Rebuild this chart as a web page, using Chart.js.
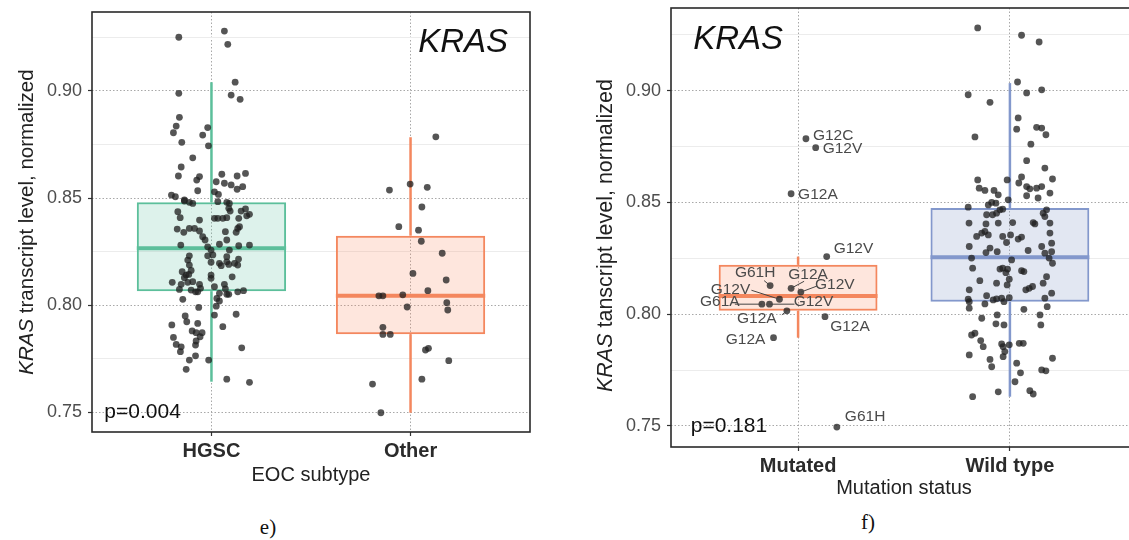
<!DOCTYPE html>
<html lang="en">
<head>
<meta charset="utf-8">
<title>KRAS transcript level</title>
<script src="https://cdn.jsdelivr.net/npm/chart.js@4.4.1/dist/chart.umd.min.js"></script>
<style>
  html, body { margin: 0; padding: 0; background: #fff; width: 1129px; height: 540px; overflow: hidden; position: relative; }
  #panelE { position: absolute; left: 0; top: 0; }
  #panelF { position: absolute; left: 565px; top: 0; }
  .caption { position: absolute; font-family: 'Liberation Serif', 'DejaVu Serif', serif; font-size: 21px; color: #111; transform: translate(-50%, -50%); }
</style>
</head>
<body>
<canvas id="panelE" width="560" height="500"></canvas>
<canvas id="panelF" width="600" height="500"></canvas>
<div class="caption" style="left:268px; top:527px">e)</div>
<div class="caption" style="left:868px; top:522px">f)</div>
<script>
const FONT = "'Liberation Sans', Arial, sans-serif";
Chart.defaults.font.family = FONT;
Chart.defaults.animation = false;

// ---------- shared ticks ----------
const yMajorTicks = [0.75, 0.80, 0.85, 0.90];
const yMinorTicks = [0.775, 0.825, 0.875, 0.925];

// ---------- panel e : EOC subtype ----------
const eCategories = ['HGSC', 'Other'];
const eLower  = [0.7642, 0.7497];
const eQ1     = [0.8065, 0.7864];
const eMedian = [0.8265, 0.8043];
const eQ3     = [0.8480, 0.8324];
const eUpper  = [0.9041, 0.8784];

const hgscX = [
  0.836,1.065,1.082,1.119,0.836,1.099,1.144,0.839,0.823,0.809,
  0.981,0.956,0.851,0.985,0.906,0.848,0.834,0.940,0.926,0.931,
  1.052,1.129,1.171,1.024,1.065,1.099,1.157,1.129,1.015,0.799,
  0.819,0.864,1.035,
  0.864,0.889,0.906,1.032,1.077,1.090,1.087,1.094,1.149,1.171,
  1.191,1.177,0.831,0.843,0.940,1.015,1.032,1.057,1.077,1.137,
  1.141,0.828,0.861,0.889,0.915,0.940,0.956,0.968,1.070,1.077,
  1.124,1.132,0.846,0.981,0.998,1.040,1.090,1.137,1.191,1.007,
  0.981,0.889,0.881,1.077,1.136,0.889,0.998,1.040,1.049,1.077,
  1.087,1.116,1.132,0.853,0.873,0.864,0.886,0.898,0.998,0.998,
  1.104,0.803,0.848,0.881,0.906,0.940,0.945,1.015,1.065,1.070,
  0.839,0.898,0.920,0.931,1.040,1.077,1.087,1.132,1.161,1.027,
  1.040,0.856,1.024,0.936,1.015,1.124,0.801,0.868,0.876,0.931,
  1.057,0.903,0.923,0.953,0.943,0.809,0.823,0.923,0.920,0.848,
  0.844,1.152,0.920,0.889,0.986,0.873,1.077,1.191
];
const hgscY = [
  0.9251,0.9280,0.9218,0.9041,0.8989,0.8981,0.8961,0.8877,0.8836,0.8805,
  0.8829,0.8794,0.8760,0.8744,0.8688,0.8645,0.8603,0.8600,0.8584,0.8534,
  0.8611,0.8603,0.8615,0.8576,0.8569,0.8561,0.8553,0.8541,0.8529,0.8514,
  0.8506,0.8491,0.8517,
  0.8486,0.8480,0.8475,0.8483,0.8480,0.8475,0.8452,0.8439,0.8439,0.8449,
  0.8424,0.8417,0.8436,0.8408,0.8397,0.8405,0.8405,0.8405,0.8408,0.8405,
  0.8366,0.8355,0.8340,0.8358,0.8358,0.8346,0.8319,0.8304,0.8343,0.8304,
  0.8340,0.8358,0.8280,0.8272,0.8257,0.8284,0.8257,0.8277,0.8280,0.8234,
  0.8230,0.8230,0.8210,0.8226,0.8215,0.8187,0.8200,0.8195,0.8184,0.8202,
  0.8190,0.8195,0.8187,0.8156,0.8140,0.8128,0.8143,0.8162,0.8140,0.8125,
  0.8132,0.8106,0.8097,0.8106,0.8109,0.8097,0.8078,0.8086,0.8097,0.8075,
  0.8073,0.8070,0.8062,0.8062,0.8055,0.8050,0.8050,0.8062,0.8067,0.8031,
  0.8019,0.8027,0.7995,0.7989,0.7953,0.7957,0.7907,0.7949,0.7922,0.7914,
  0.7899,0.7879,0.7871,0.7871,0.7852,0.7849,0.7816,0.7832,0.7813,0.7805,
  0.7782,0.7800,0.7763,0.7743,0.7743,0.7700,0.7654,0.7639
];
const otherX = [
  2.127,1.894,1.998,2.084,2.057,1.941,2.040,2.054,2.159,2.012,
  2.179,2.087,1.841,1.861,1.961,1.983,2.182,2.187,1.861,1.861,
  1.898,2.075,2.090,2.192,2.057,1.809,1.851
];
const otherY = [
  0.8786,0.8537,0.8565,0.8550,0.8458,0.8366,0.8350,0.8298,0.8242,0.8148,
  0.8117,0.8067,0.8043,0.8043,0.8048,0.7991,0.8011,0.7977,0.7896,0.7863,
  0.7863,0.7790,0.7798,0.7740,0.7654,0.7631,0.7497
];

// ---------- panel f : mutation status ----------
const fCategories = ['Mutated', 'Wild type'];
const fLower  = [0.7895, 0.7631];
const fQ1     = [0.8016, 0.8056];
const fMedian = [0.8082, 0.8255];
const fQ3     = [0.8221, 0.8475];
const fUpper  = [0.8258, 0.9034];

const mutLabels = ['G12C','G12V','G12A','G12V','G61H','G12A','G12V','G12V','G61A','G12V','G12A','G12A','G12A','G61H'];
const mutX = [1.037,1.083,0.967,1.135,0.868,0.967,0.912,1.013,0.829,0.865,0.947,1.127,0.884,1.183];
const mutY = [0.8785,0.8745,0.8539,0.8258,0.8128,0.8116,0.8067,0.8099,0.8045,0.8045,0.8015,0.7989,0.7895,0.7495];

const wildX = [
  1.848,2.055,2.138,2.036,1.803,2.079,1.906,2.150,2.039,2.032,
  2.126,1.835,2.099,2.079,1.848,1.855,1.882,1.925,1.945,1.987,
  2.055,2.042,2.079,2.094,2.126,2.079,1.992,2.133,2.150,2.170,
  2.165,2.201,2.189,2.150,2.165,2.189,2.157,2.173,2.189,2.197,
  2.150,2.165,2.201,2.197,2.185,2.173,2.157,2.197,2.165,2.176,
  2.142,2.146,2.201,2.150,2.170,1.803,1.898,1.914,1.934,1.890,
  1.918,1.937,1.953,1.966,1.807,1.945,1.887,2.013,2.110,2.118,
  1.882,1.867,1.843,1.898,1.966,2.003,2.039,2.055,1.984,1.808,
  1.906,1.887,1.940,2.086,1.819,2.008,1.824,1.953,1.966,1.981,
  1.989,2.055,2.066,1.858,1.937,1.997,1.987,2.075,2.091,2.107,
  1.808,1.890,1.803,1.808,1.921,1.937,1.882,1.961,1.972,1.997,
  1.808,2.066,1.940,1.867,1.934,1.972,1.819,1.835,1.862,1.874,
  1.961,1.968,1.997,2.044,2.063,1.808,1.976,1.968,1.906,1.914,
  2.032,2.050,2.024,1.945,1.824,2.094,2.110
];
const wildY = [
  0.9281,0.9248,0.9218,0.9039,0.8982,0.8990,0.8948,0.9004,0.8878,0.8828,
  0.8836,0.8793,0.8761,0.8687,0.8601,0.8564,0.8554,0.8554,0.8534,0.8601,
  0.8614,0.8587,0.8571,0.8561,0.8564,0.8530,0.8512,0.8520,0.8833,0.8803,
  0.8654,0.8605,0.8542,0.8571,0.8437,0.8408,0.8452,0.8467,0.8363,0.8318,
  0.8303,0.8273,0.8228,0.8280,0.8251,0.8168,0.8139,0.8094,0.8072,0.8034,
  0.7997,0.7952,0.7803,0.7751,0.7747,0.8479,0.8489,0.8500,0.8497,0.8445,
  0.8445,0.8452,0.8467,0.8470,0.8408,0.8408,0.8404,0.8410,0.8410,0.8404,
  0.8370,0.8363,0.8348,0.8355,0.8348,0.8355,0.8336,0.8345,0.8321,0.8303,
  0.8296,0.8276,0.8280,0.8285,0.8251,0.8243,0.8206,0.8202,0.8206,0.8186,
  0.8202,0.8195,0.8191,0.8150,0.8139,0.8157,0.8131,0.8109,0.8116,0.8124,
  0.8109,0.8083,0.8067,0.8056,0.8064,0.8069,0.8046,0.8072,0.8056,0.8074,
  0.8027,0.8022,0.7997,0.7982,0.7957,0.7952,0.7907,0.7915,0.7882,0.7855,
  0.7867,0.7855,0.7863,0.7870,0.7870,0.7818,0.7833,0.7810,0.7798,0.7765,
  0.7781,0.7738,0.7698,0.7653,0.7631,0.7658,0.7643
];

// where each mutation name sits relative to its point (pixels), plus optional leader line
const mutLabelPos = [
  {dx: 7, dy: -3, align: 'left'},
  {dx: 7, dy: 1, align: 'left'},
  {dx: 7, dy: 1, align: 'left'},
  {dx: 7, dy: -8, align: 'left'},
  {dx: -15, dy: -13, align: 'center', line: [-6, -5]},
  {dx: 17, dy: -14, align: 'center', line: [13, -7]},
  {dx: -49, dy: -10, align: 'center', line: [-28, -9]},
  {dx: 34, dy: -7, align: 'center', line: [16, -6]},
  {dx: -42, dy: -2, align: 'center', line: [-27, 0]},
  {dx: 44, dy: -2, align: 'center', line: [25, 0]},
  {dx: -30, dy: 8, align: 'center', line: [-5, 4]},
  {dx: 25, dy: 10, align: 'center'},
  {dx: -28, dy: 2, align: 'center'},
  {dx: 8, dy: -10, align: 'left'}
];

const BOX_HALF = 0.375;      // half of the box width, in category units
const POINT_COLOR = 'rgba(32,32,32,0.76)';

function boxDatasets(lower, q1, med, q3, upper, colors, fills) {
  const idx = q1.map((_, i) => i);
  const sets = [
    { type: 'bar', data: idx.map(i => ({x: i + 1, y: [lower[i], q1[i]]})), backgroundColor: colors,
      maxBarThickness: 2.5, grouped: false, order: 5 },
    { type: 'bar', data: idx.map(i => ({x: i + 1, y: [q3[i], upper[i]]})), backgroundColor: colors,
      maxBarThickness: 2.5, grouped: false, order: 5 },
    { type: 'bar', data: idx.map(i => ({x: i + 1, y: [q1[i], q3[i]]})), backgroundColor: fills,
      borderColor: colors, borderWidth: 2, borderSkipped: false, barPercentage: 0.75,
      categoryPercentage: 1, grouped: false, order: 4 }
  ];
  idx.forEach(i => sets.push({
    type: 'line', showLine: true, order: 3,
    data: [{x: i + 1 - BOX_HALF, y: med[i]}, {x: i + 1 + BOX_HALF, y: med[i]}],
    borderColor: colors[i], borderWidth: 4, pointRadius: 0
  }));
  return sets;
}

function pointSet(xs, ys) {
  return { type: 'scatter', order: 1, data: xs.map((x, i) => ({x: x, y: ys[i]})),
           pointRadius: 3.4, pointBackgroundColor: POINT_COLOR, pointBorderWidth: 0, pointHoverRadius: 3.4 };
}

function buildScales(cats, yMin, yMax, yWidth, xHeight, xTitle, titlePad) {
  const noPadX = s => { s.paddingLeft = 0; s.paddingRight = 0; };
  const noPadY = s => { s.paddingTop = 0; s.paddingBottom = 0; };
  return {
    x: {
      type: 'linear', min: 0.4, max: 2.6, bounds: 'data', offset: false,
      afterBuildTicks: s => { s.ticks = cats.map((_, i) => ({value: i + 1})); },
      afterFit: s => { s.height = xHeight; noPadX(s); },
      ticks: { callback: v => cats[v - 1], color: '#2b2b2b', font: {size: 20, weight: 'bold'},
               padding: 3, maxRotation: 0, autoSkip: false },
      grid: { color: '#a8a8a8', lineWidth: 1, offset: false, drawTicks: true, tickLength: 4,
              tickColor: '#333', tickWidth: 1.2 },
      border: { display: false, dash: [1.5, 2] },
      title: { display: true, text: xTitle, color: '#222', font: {size: 20},
               padding: {top: 0, bottom: titlePad} }
    },
    yMinor: {
      type: 'linear', position: 'left', min: yMin, max: yMax, bounds: 'data',
      afterBuildTicks: s => { s.ticks = yMinorTicks.map(v => ({value: v})); },
      afterFit: s => { s.width = 0; noPadY(s); },
      ticks: { display: false },
      grid: { color: '#ececec', lineWidth: 1, drawTicks: false },
      border: { display: false }
    },
    y: {
      type: 'linear', position: 'left', min: yMin, max: yMax, bounds: 'data',
      afterBuildTicks: s => { s.ticks = yMajorTicks.map(v => ({value: v})); },
      afterFit: s => { s.width = yWidth; noPadY(s); },
      ticks: { callback: v => v.toFixed(2), color: '#4d4d4d', font: {size: 18}, padding: 6 },
      grid: { color: '#a8a8a8', lineWidth: 1, drawTicks: true, tickLength: 4, tickColor: '#333', tickWidth: 1.2 },
      border: { display: false, dash: [1.5, 2] }
    }
  };
}

// panel frame, y title with italic gene name, in-panel texts, mutation labels
const panelDecor = {
  id: 'panelDecor',
  afterDatasetsDraw(chart, args, opts) {
    const {ctx, chartArea: a} = chart;
    const xs = chart.scales.x, ys = chart.scales.y;
    ctx.save();
    ctx.strokeStyle = '#2a2a2a';
    ctx.lineWidth = 1.6;
    ctx.strokeRect(a.left, a.top, a.right - a.left, a.bottom - a.top);

    ctx.fillStyle = '#111';
    ctx.textBaseline = 'middle';
    ctx.font = 'italic 33px ' + FONT;
    ctx.textAlign = opts.gene.align;
    ctx.fillText('KRAS', xs.getPixelForValue(opts.gene.x), ys.getPixelForValue(opts.gene.y));

    ctx.font = '21px ' + FONT;
    ctx.textAlign = 'left';
    ctx.fillText(opts.p.text, xs.getPixelForValue(opts.p.x), ys.getPixelForValue(opts.p.y));

    if (opts.labels) {
      ctx.font = '15.5px ' + FONT;
      ctx.strokeStyle = '#444';
      ctx.lineWidth = 1;
      opts.labels.text.forEach((t, i) => {
        const px = xs.getPixelForValue(opts.labels.x[i]);
        const py = ys.getPixelForValue(opts.labels.y[i]);
        const pos = opts.labels.pos[i];
        if (pos.line) {
          ctx.beginPath();
          ctx.moveTo(px, py);
          ctx.lineTo(px + pos.line[0], py + pos.line[1]);
          ctx.stroke();
        }
        ctx.fillStyle = '#4a4a4a';
        ctx.textAlign = pos.align;
        ctx.fillText(t, px + pos.dx, py + pos.dy);
      });
    }

    // y axis title: gene name in italics
    ctx.translate(opts.yTitle.x, (a.top + a.bottom) / 2 + opts.yTitle.dy);
    ctx.rotate(-Math.PI / 2);
    const size = opts.yTitle.size;
    ctx.font = 'italic ' + size + 'px ' + FONT;
    const w1 = ctx.measureText('KRAS').width;
    ctx.font = size + 'px ' + FONT;
    const w2 = ctx.measureText(opts.yTitle.rest).width;
    const sx = -(w1 + w2) / 2;
    ctx.fillStyle = '#222';
    ctx.textAlign = 'left';
    ctx.font = 'italic ' + size + 'px ' + FONT;
    ctx.fillText('KRAS', sx, 0);
    ctx.font = size + 'px ' + FONT;
    ctx.fillText(opts.yTitle.rest, sx + w1, 0);
    ctx.restore();
  }
};

const eColors = ['#5cbf9b', '#f4875e'];
const eFills = ['rgba(102,194,165,0.22)', 'rgba(252,141,98,0.22)'];
const fColors = ['#f4875e', '#8398cc'];
const fFills = ['rgba(252,141,98,0.22)', 'rgba(141,160,203,0.25)'];

new Chart(document.getElementById('panelE'), {
  type: 'scatter',
  data: {
    datasets: [
      ...boxDatasets(eLower, eQ1, eMedian, eQ3, eUpper, eColors, eFills),
      pointSet(hgscX, hgscY),
      pointSet(otherX, otherY)
    ]
  },
  options: {
    responsive: false,
    devicePixelRatio: 1,
    layout: { padding: {left: 0, top: 12, right: 30, bottom: 0} },
    scales: buildScales(eCategories, 0.7407, 0.9369, 92, 68, 'EOC subtype', 13),
    plugins: {
      legend: { display: false },
      tooltip: { enabled: false },
      panelDecor: {
        gene: {x: 2.49, y: 0.9224, align: 'right'},
        p: {x: 0.462, y: 0.75, text: 'p=0.004'},
        yTitle: {x: 27, dy: 0, size: 20.5, rest: ' transcript level, normalized'}
      }
    }
  },
  plugins: [panelDecor]
});

new Chart(document.getElementById('panelF'), {
  type: 'scatter',
  data: {
    datasets: [
      ...boxDatasets(fLower, fQ1, fMedian, fQ3, fUpper, fColors, fFills),
      pointSet(mutX, mutY),
      pointSet(wildX, wildY)
    ]
  },
  options: {
    responsive: false,
    devicePixelRatio: 1,
    layout: { padding: {left: 0, top: 8, right: 28, bottom: 0} },
    scales: buildScales(fCategories, 0.7406, 0.9370, 106, 53, 'Mutation status', 0),
    plugins: {
      legend: { display: false },
      tooltip: { enabled: false },
      panelDecor: {
        gene: {x: 0.505, y: 0.9228, align: 'left'},
        p: {x: 0.493, y: 0.75, text: 'p=0.181'},
        yTitle: {x: 41, dy: 8, size: 21.5, rest: ' tanscript level, normalized'},
        labels: {text: mutLabels, x: mutX, y: mutY, pos: mutLabelPos}
      }
    }
  },
  plugins: [panelDecor]
});
</script>
</body>
</html>
